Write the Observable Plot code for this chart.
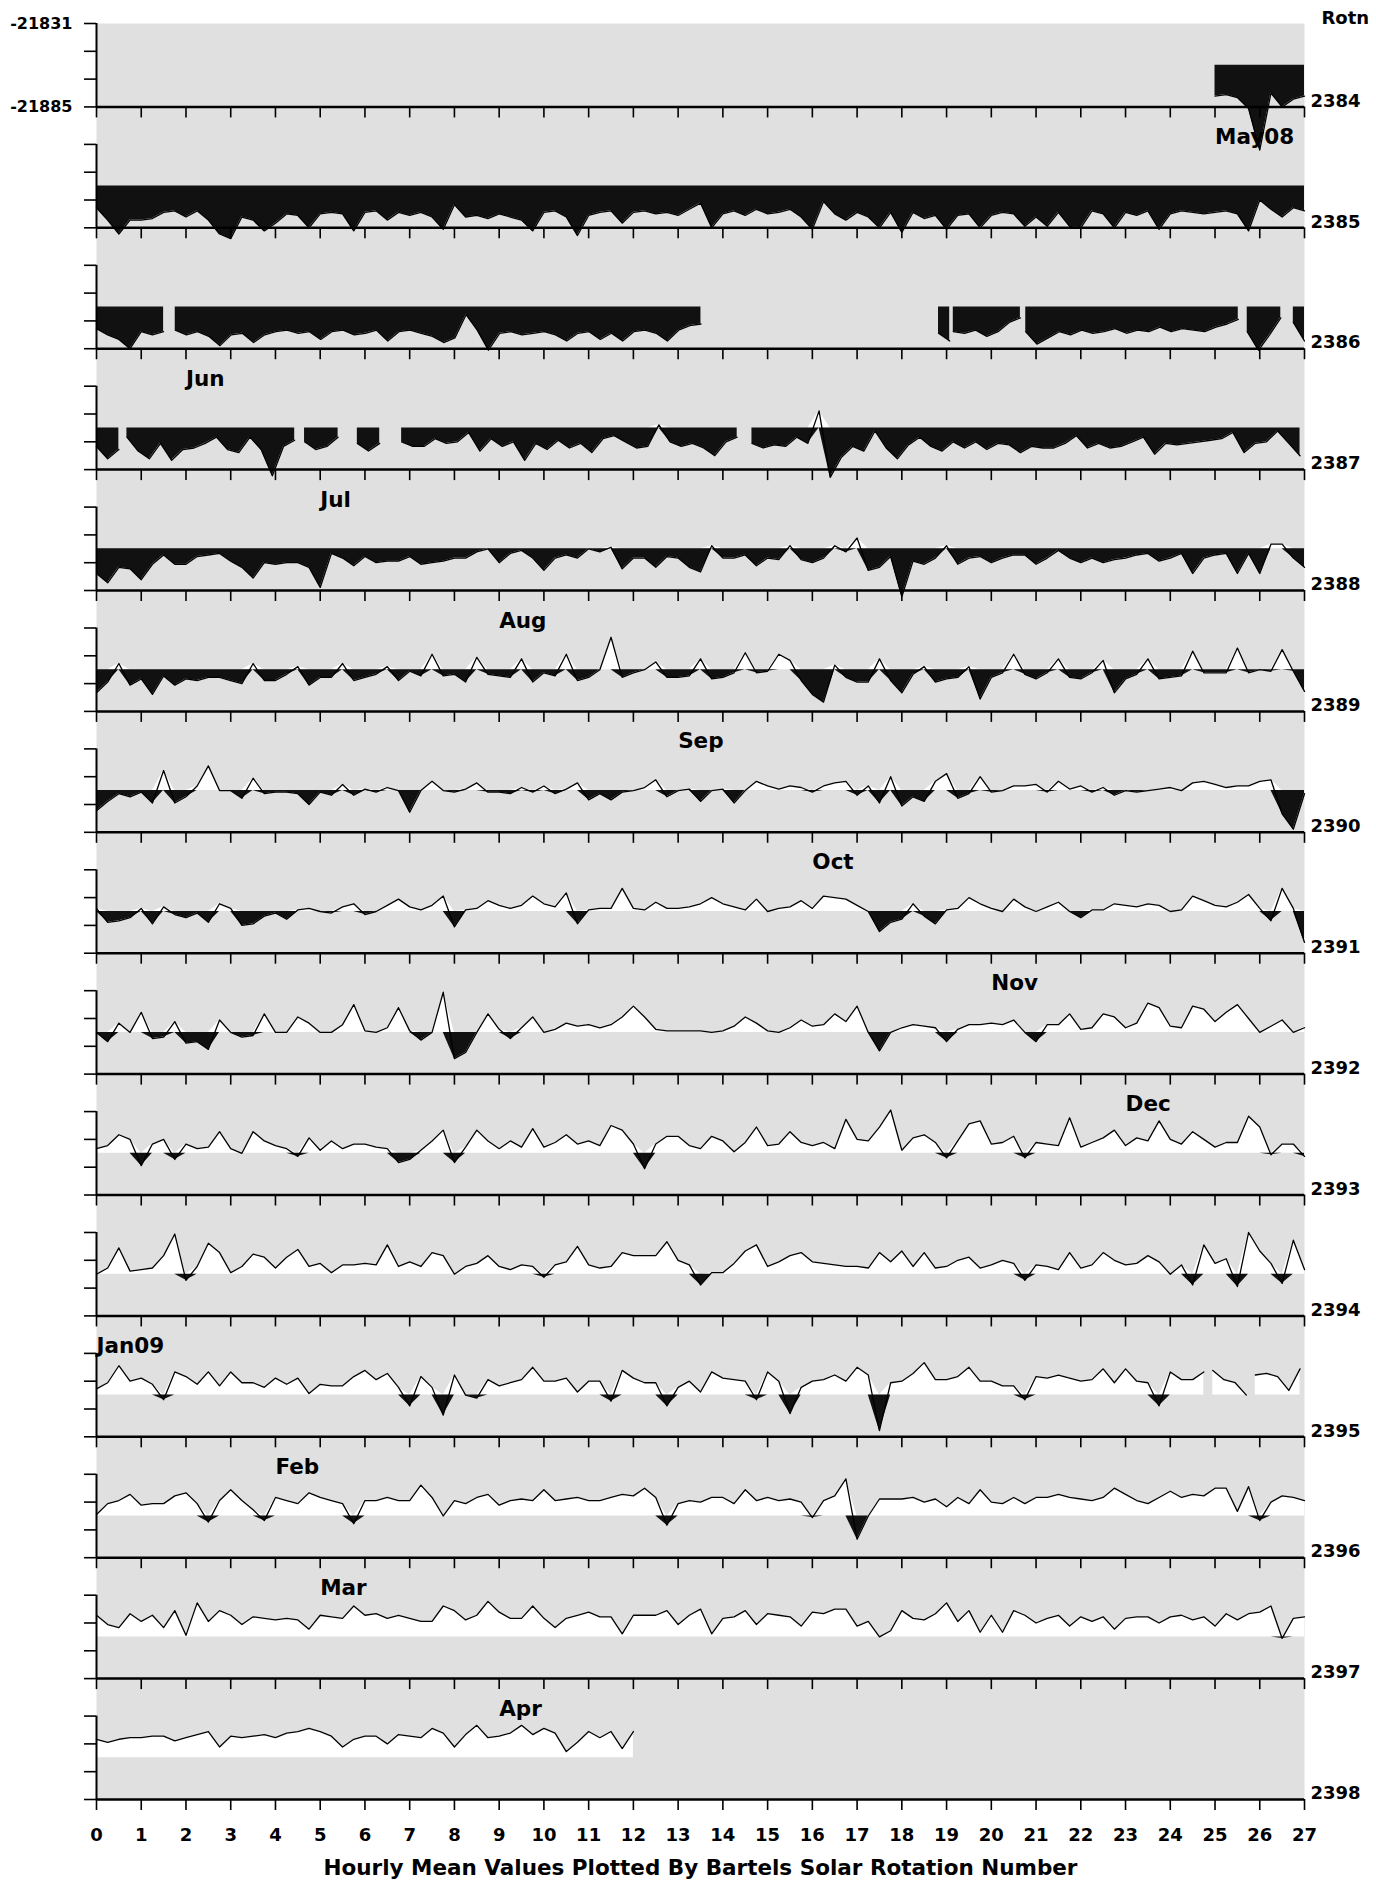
<!DOCTYPE html>
<html><head><meta charset="utf-8">
<script src="https://cdn.jsdelivr.net/npm/d3@7"></script>
<script src="https://cdn.jsdelivr.net/npm/@observablehq/plot@0.6"></script>
<style>body{margin:0;background:#fff;}</style>
</head><body><div id="chart"></div>
<script>
// Bartels rotations shown, one panel each
const rotations = d3.range(2384, 2399);
const baseline = -21858;            // nT, level separating white (above) and black (below) fill
const yTop = -21831, yBottom = -21885;
const yTicks = [-21885, -21867, -21849, -21831];
const yLabels = [-21831, -21885];
const dayTicks = d3.range(0, 28);
const step = 0.25;                  // days between readings
// each rotation: list of [startDay, deviations from baseline (nT) every 6 h]
const r2384 = [[25, [-20,-19,-21,-28,-55,-18,-27,-22,-20]]];
const r2385 = [[0, [-14,-22,-31,-22,-22,-21,-17,-16,-20,-16,-22,-31,-34,-20,-22,-29,-24,-18,-19,-27,-18,-17,-18,-29,-17,-16,-22,-17,-19,-17,-20,-28,-12,-20,-19,-21,-18,-20,-22,-29,-17,-16,-20,-32,-19,-17,-16,-24,-17,-16,-18,-17,-19,-15,-11,-27,-18,-16,-19,-15,-18,-17,-15,-20,-28,-10,-18,-22,-17,-20,-27,-17,-30,-17,-21,-19,-28,-19,-18,-27,-19,-17,-18,-26,-20,-26,-17,-26,-27,-16,-18,-27,-17,-19,-16,-28,-18,-16,-17,-18,-17,-16,-18,-29,-9,-15,-20,-14,-16]]];
const r2386 = [
  [0, [-14,-18,-21,-27,-16,-18,-16]],
  [1.76, [-15,-18,-16,-19,-25,-18,-17,-23,-18,-16,-15,-17,-16,-21,-16,-15,-18,-17,-15,-22,-16,-15,-17,-19,-23,-20,-5,-15,-28,-17,-16,-18,-17,-16,-18,-22,-17,-16,-21,-17,-22,-16,-15,-17,-22,-15,-12,-11]],
  [18.82, [-17,-22]],
  [19.15, [-16,-17,-15,-19,-16,-10,-7]],
  [20.77, [-16,-24,-20,-16,-18,-15,-17,-16,-14,-17,-15,-16,-13,-16,-14,-15,-16,-13,-11,-8]],
  [25.72, [-16,-28,-18,-7]],
  [26.75, [-10,-22]]
];
const r2387 = [
  [0, [-12,-20,-14]],
  [0.68, [-6,-15,-20,-10,-21,-14,-13,-10,-6,-14,-16,-6,-14,-31,-12,-8]],
  [4.65, [-9,-14,-12,-6]],
  [5.83, [-10,-15,-10]],
  [6.82, [-9,-12,-12,-7,-10,-9,-3,-15,-7,-12,-9,-21,-10,-14,-8,-13,-10,-16,-7,-5,-9,-13,-12,2,-9,-12,-10,-13,-18,-9,-6]],
  [14.65, [-10,-13,-11,-12,-6,-10,11,-32,-19,-12,-15,-2,-13,-20,-11,-6,-12,-15,-9,-13,-9,-14,-10,-11,-16,-12,-13,-13,-10,-5,-13,-10,-13,-12,-9,-6,-17,-10,-11,-10,-9,-8,-7,-3,-16,-10,-9,-2,-10,-18]]
];
const r2388 = [[0, [-16,-22,-12,-13,-20,-10,-4,-10,-10,-5,-4,-3,-8,-12,-19,-9,-10,-9,-9,-12,-25,-3,-6,-11,-5,-9,-8,-8,-5,-10,-9,-8,-6,-6,-2,0,-9,-3,-1,-6,-14,-6,-4,-6,0,-2,1,-13,-6,-6,-12,-5,-6,-12,-15,2,-6,-6,-4,-11,-6,-7,2,-7,-9,-6,2,-2,7,-14,-12,-5,-31,-8,-10,-6,2,-10,-6,-5,-9,-6,-4,-4,-10,-6,-1,-6,-9,-6,-9,-7,-6,-4,-3,-8,-6,-3,-16,-6,-4,-3,-16,-3,-16,3,3,-6,-12]]];
const r2389 = [[0, [-15,-8,4,-10,-6,-16,-4,-10,-6,-7,-5,-5,-7,-9,4,-7,-7,-3,2,-10,-5,-5,4,-7,-5,-3,2,-7,-1,-4,10,-4,-3,-8,8,-3,-4,-5,7,-8,-2,-4,10,-7,-5,0,21,-5,-2,0,5,-5,-5,-4,7,-6,-5,-2,11,-2,-1,10,6,-7,-16,-21,3,-5,-8,-8,7,-7,-15,-3,2,-8,-6,-5,2,-19,-5,-2,10,-3,-6,-2,7,-5,-6,-2,6,-15,-6,-3,7,-6,-5,-4,12,-2,-2,-2,14,-2,0,-1,13,-1,-14]]];
const r2390 = [[0, [-13,-7,-2,-4,-1,-8,13,-8,-4,3,16,0,0,-5,8,-2,-1,-1,-2,-9,-1,-3,4,-3,1,-1,2,0,-14,0,6,0,-1,1,5,-1,-1,-2,2,-1,3,-2,1,5,-6,-2,-6,-1,0,2,7,-4,0,1,-7,0,1,-8,0,6,3,1,3,2,-1,3,5,6,-3,3,-8,9,-10,-4,-7,6,11,-5,-2,9,-1,0,3,3,4,-1,6,1,3,-1,2,-3,0,-1,0,1,2,0,5,6,4,2,3,3,6,7,-15,-25,-2]]];
const r2391 = [[0, [2,-7,-6,-4,2,-8,3,-2,-4,-1,-7,5,2,-9,-8,-3,-1,-5,1,2,0,-1,3,5,-2,0,4,8,3,1,4,10,-10,1,2,7,4,2,4,10,5,3,12,-8,1,2,2,15,2,1,6,2,2,3,5,9,5,3,1,8,0,2,3,7,2,10,9,8,4,0,-13,-7,-5,5,-3,-8,1,2,9,5,2,0,8,3,0,3,6,0,-4,1,1,5,4,3,5,4,0,1,10,7,4,3,6,11,2,-6,15,2,-20]]];
const r2392 = [[0, [0,-6,6,0,13,-4,-3,7,-7,-6,-11,8,0,-3,-2,12,0,0,10,6,0,0,5,18,1,0,3,16,1,-5,0,26,-17,-13,0,12,2,-4,3,10,0,2,6,4,5,3,5,10,17,10,2,1,1,1,1,0,1,4,10,6,1,0,3,8,4,5,12,7,17,0,-12,0,3,5,4,3,-6,2,5,5,6,5,8,0,-6,5,5,12,2,3,12,10,3,6,19,16,4,3,17,15,7,13,18,9,0,4,8,0,3]]];
const r2393 = [[0, [3,5,12,9,-8,6,9,-4,6,3,4,14,3,0,14,8,5,3,-2,10,2,8,3,6,6,4,3,-6,-4,2,8,15,-6,4,15,8,3,8,4,16,4,7,12,6,8,5,18,15,6,-10,6,11,11,5,3,11,8,1,7,17,5,6,14,7,5,7,3,22,9,8,17,28,2,10,12,7,-3,8,19,21,6,7,11,-3,7,6,5,23,4,7,10,15,5,10,8,21,9,6,14,9,4,7,7,24,17,-1,6,6,-2]]];
const r2394 = [[0, [0,4,17,2,3,4,12,26,-4,5,20,14,1,5,13,11,4,11,16,5,7,1,6,6,7,6,19,5,8,5,14,12,0,5,7,12,5,3,6,5,-2,6,8,18,6,4,5,14,12,12,12,21,9,6,-7,1,1,7,15,19,5,8,12,14,8,7,6,5,5,4,14,8,15,5,14,4,5,9,11,4,6,9,7,-4,6,5,3,14,4,6,14,9,6,7,12,8,0,6,-7,19,7,10,-8,27,15,7,-6,22,3]]];
const r2395 = [
  [0, [4,8,19,9,11,7,-3,15,12,7,15,6,15,8,8,5,11,7,11,1,7,6,6,12,16,10,14,5,-7,12,5,-13,13,0,-2,10,6,8,10,18,9,9,11,2,9,9,-4,16,11,8,8,-7,5,9,2,15,11,10,9,-3,15,9,-12,5,9,10,13,9,18,13,-23,8,9,14,21,10,10,12,18,9,9,6,6,-3,12,11,13,11,9,10,17,8,17,9,8,-7,15,10,10,15]],
  [24.95, [16,10,8,0]],
  [25.9, [13,14,12,3,17]]
];
const r2396 = [[0, [1,8,10,14,7,8,8,13,15,8,-4,10,17,10,4,-3,12,10,8,15,12,10,8,-5,10,10,12,10,10,20,12,0,10,8,12,14,7,10,11,10,17,10,11,12,10,10,12,14,13,18,12,-6,8,10,9,12,12,8,17,10,12,10,11,9,-1,10,13,24,-15,0,11,11,11,12,9,11,6,12,8,17,9,8,12,8,12,12,14,12,11,10,12,18,14,10,8,12,16,12,14,13,18,18,3,19,-3,9,13,12,10]]];
const r2397 = [[0, [14,8,6,15,10,14,6,17,1,22,10,17,14,8,13,12,11,12,11,5,14,13,12,20,14,15,12,14,12,10,10,20,17,11,14,23,16,12,12,20,12,6,12,14,16,13,13,2,14,14,14,17,8,14,18,2,12,13,17,8,15,14,13,7,16,15,18,18,7,10,0,4,17,12,11,15,22,10,17,3,14,3,17,14,9,12,14,7,13,10,13,5,12,13,13,9,13,14,11,13,7,15,11,15,16,20,-1,12,13]]];
const r2398 = [[0, [12,10,12,13,13,14,14,11,13,15,17,7,14,13,14,15,13,16,17,19,17,14,7,12,14,14,9,15,14,13,19,16,7,15,21,13,14,16,21,15,19,16,4,10,17,13,17,6,17]]];
const series = [r2384,r2385,r2386,r2387,r2388,r2389,r2390,r2391,r2392,r2393,r2394,r2395,r2396,r2397,r2398];

const monthNames = ["May08","Jun","Jul","Aug","Sep","Oct","Nov","Dec","Jan09","Feb","Mar","Apr"];
const monthRotation = [2384,2386,2387,2388,2389,2390,2391,2392,2394,2395,2396,2397];
const monthStartDay = [25,2,5,9,13,16,20,23,0,4,5,9];
const title = "Hourly Mean Values Plotted By Bartels Solar Rotation Number";

const table = [];
series.forEach((segments, k) => {
  for (const [start, vals] of segments) {
    vals.forEach((d, i) => table.push({rot: rotations[k], day: start + i * step, v: baseline + d}));
    table.push({rot: rotations[k], day: start + vals.length * step, v: NaN});
  }
});
const months = monthNames.map((label, i) => ({label, rot: monthRotation[i], day: monthStartDay[i]}));

const bold = {fontWeight: "bold", fontFamily: "'DejaVu Sans', sans-serif"};
const chart = Plot.plot({
  width: 1376, height: 1881,
  marginLeft: 96, marginRight: 72, marginTop: 23, marginBottom: 82,
  style: {background: "white", fontFamily: "'DejaVu Sans', sans-serif", fontWeight: "bold", color: "black"},
  x: {domain: [0, 27]},
  y: {domain: [yBottom, yTop]},
  fy: {domain: rotations, paddingInner: 0.31, paddingOuter: 0, round: false, axis: null, label: null},
  marks: [
    Plot.frame({facet: "super", fill: "#e0e0e0", stroke: "none"}),
    Plot.areaY(table, {fy: "rot", x: "day", y1: () => baseline, y2: d => isNaN(d.v) ? NaN : Math.max(d.v, baseline), fill: "white"}),
    Plot.areaY(table, {fy: "rot", x: "day", y1: () => baseline, y2: d => isNaN(d.v) ? NaN : Math.min(d.v, baseline), fill: "#111"}),
    Plot.lineY(table, {fy: "rot", x: "day", y: "v", stroke: "black", strokeWidth: 1.3}),
    Plot.ruleY([yBottom], {stroke: "black", strokeWidth: 2.5}),
    Plot.ruleX([0], {stroke: "black", strokeWidth: 2}),
    Plot.axisX({ticks: dayTicks, tickSize: 11, tickFormat: () => "", label: null, facetAnchor: null, strokeWidth: 1.6}),
    Plot.axisY({ticks: yTicks, tickSize: 12, tickFormat: () => "", label: null, facetAnchor: null, strokeWidth: 1.6}),
    Plot.axisY({ticks: yLabels, tickSize: 0, tickPadding: 24, tickFormat: d => String(d), label: null, facetAnchor: "top",
      fontSize: 16, ...bold}),
    Plot.axisX({ticks: dayTicks, tickSize: 0, tickPadding: 29, tickFormat: d => String(d), label: null, facetAnchor: "bottom",
      fontSize: 18, ...bold}),
    Plot.text(rotations, {fy: d => d, text: d => String(d), frameAnchor: "bottom-right", textAnchor: "start", lineAnchor: "middle",
      dx: 6, dy: -6, fontSize: 18, ...bold}),
    Plot.text(months, {fy: "rot", x: "day", text: "label", frameAnchor: "bottom", textAnchor: "start", lineAnchor: "bottom",
      dy: 37, fontSize: 21.5, ...bold}),
    Plot.text(["Rotn"], {facet: "super", text: d => d, frameAnchor: "top-right", textAnchor: "start", lineAnchor: "bottom",
      dx: 17, dy: 0, fontSize: 18, ...bold}),
    Plot.text([title], {facet: "super", text: d => d, frameAnchor: "bottom", lineAnchor: "bottom", dy: 75, fontSize: 21.5, ...bold})
  ]
});
document.getElementById("chart").appendChild(chart);
</script>
</body></html>
